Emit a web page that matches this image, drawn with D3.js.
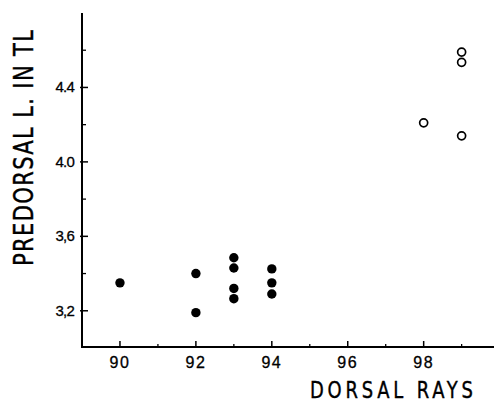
<!DOCTYPE html>
<html>
<head>
<meta charset="utf-8">
<script src="https://cdn.jsdelivr.net/npm/d3@7"></script>
<style>
body { margin: 0; background: #fff; }
svg { display: block; }
</style>
</head>
<body>
<script>
// values
var filledRays = [90, 92, 92, 93, 93, 93, 93, 94, 94, 94];
var filledPredorsal = [3.35, 3.40, 3.19, 3.485, 3.43, 3.32, 3.265, 3.425, 3.35, 3.29];
var openRays = [98, 99, 99, 99];
var openPredorsal = [4.21, 4.59, 4.535, 4.14];
var xTickValues = [90, 92, 94, 96, 98];
var xMinorValues = [91, 93, 95, 97, 99];
var yTickValues = [3.2, 3.6, 4.0, 4.4];
var yMinorValues = [3.4, 3.8, 4.2, 4.6];

var w = 494, h = 404;

var svg = d3.select("body")
	.append("svg")
	.attr("width", w)
	.attr("height", h);

var x = d3.scaleLinear()
	.domain([89, 99.8])
	.range([82, 492]);

var y = d3.scaleLinear()
	.domain([3.0, 4.8])
	.range([348, 13]);

var fmtY = function(d){ return d >= 4 ? d.toFixed(1) : d.toFixed(1).replace(".", ","); };

// axes lines
svg.append("line")
	.attr("x1", 82).attr("x2", 82)
	.attr("y1", 13).attr("y2", 348)
	.style("stroke", "#000").style("stroke-width", 2);
svg.append("line")
	.attr("x1", 81).attr("x2", w)
	.attr("y1", 347).attr("y2", 347)
	.style("stroke", "#000").style("stroke-width", 2);

// y ticks (inward)
svg.selectAll(".ytick")
	.data(yTickValues)
	.enter()
	.append("line")
	.attr("class", "ytick")
	.attr("x1", 80).attr("x2", 88)
	.attr("y1", function(d){ return y(d); })
	.attr("y2", function(d){ return y(d); })
	.style("stroke", "#000").style("stroke-width", 1.5);
svg.selectAll(".yminor")
	.data(yMinorValues)
	.enter()
	.append("line")
	.attr("class", "yminor")
	.attr("x1", 82).attr("x2", 86)
	.attr("y1", function(d){ return y(d); })
	.attr("y2", function(d){ return y(d); })
	.style("stroke", "#000").style("stroke-width", 1.3);
svg.selectAll(".ylab")
	.data(yTickValues)
	.enter()
	.append("text")
	.attr("class", "ylab")
	.attr("x", 74)
	.attr("y", function(d){ return y(d) + 5; })
	.attr("text-anchor", "end")
	.style("font-family", "Liberation Sans, sans-serif")
	.style("font-size", "15px")
	.style("letter-spacing", "-0.8px")
	.style("fill", "#000")
	.style("stroke", "#000")
	.style("stroke-width", 0.3)
	.text(fmtY);

// x ticks (inward)
svg.selectAll(".xtick")
	.data(xTickValues)
	.enter()
	.append("line")
	.attr("class", "xtick")
	.attr("x1", function(d){ return x(d); })
	.attr("x2", function(d){ return x(d); })
	.attr("y1", 347).attr("y2", 341)
	.style("stroke", "#000").style("stroke-width", 1.5);
svg.selectAll(".xminor")
	.data(xMinorValues)
	.enter()
	.append("line")
	.attr("class", "xminor")
	.attr("x1", function(d){ return x(d); })
	.attr("x2", function(d){ return x(d); })
	.attr("y1", 347).attr("y2", 344)
	.style("stroke", "#000").style("stroke-width", 1.3);
svg.selectAll(".xlab")
	.data(xTickValues)
	.enter()
	.append("text")
	.attr("class", "xlab")
	.attr("x", function(d){ return x(d); })
	.attr("y", 368)
	.attr("text-anchor", "middle")
	.style("font-family", "Liberation Sans, sans-serif")
	.style("font-size", "16px")
	.style("letter-spacing", "1.5px")
	.style("fill", "#000")
	.style("stroke", "#000")
	.style("stroke-width", 0.3)
	.text(function(d){ return d; });

// axis titles (condensed by horizontal scale)
svg.append("text")
	.attr("transform", "translate(310, 398) scale(0.78, 1)")
	.attr("textLength", 163 / 0.78)
	.attr("lengthAdjust", "spacing")
	.style("font-family", "DejaVu Sans, sans-serif")
	.style("font-size", "23px")
	.style("fill", "#000")
	.style("stroke", "#000")
	.style("stroke-width", 0.4)
	.text("DORSAL RAYS");

svg.append("text")
	.attr("transform", "translate(33, 266) rotate(-90) scale(0.78, 1)")
	.attr("textLength", 236 / 0.78)
	.attr("lengthAdjust", "spacing")
	.style("font-family", "DejaVu Sans, sans-serif")
	.style("font-size", "27px")
	.style("fill", "#000")
	.style("stroke", "#000")
	.style("stroke-width", 0.4)
	.text("PREDORSAL L. IN TL");

// points
var filled = filledRays.map(function(d, i){ return {r: d, p: filledPredorsal[i]}; });
var open = openRays.map(function(d, i){ return {r: d, p: openPredorsal[i]}; });

svg.selectAll(".filled")
	.data(filled)
	.enter()
	.append("circle")
	.attr("class", "filled")
	.attr("cx", function(d){ return x(d.r); })
	.attr("cy", function(d){ return y(d.p); })
	.attr("r", 4.7)
	.style("fill", "#000");

svg.selectAll(".open")
	.data(open)
	.enter()
	.append("circle")
	.attr("class", "open")
	.attr("cx", function(d){ return x(d.r); })
	.attr("cy", function(d){ return y(d.p); })
	.attr("r", 4)
	.style("fill", "#fff")
	.style("stroke", "#000")
	.style("stroke-width", 1.7);
</script>
</body>
</html>
